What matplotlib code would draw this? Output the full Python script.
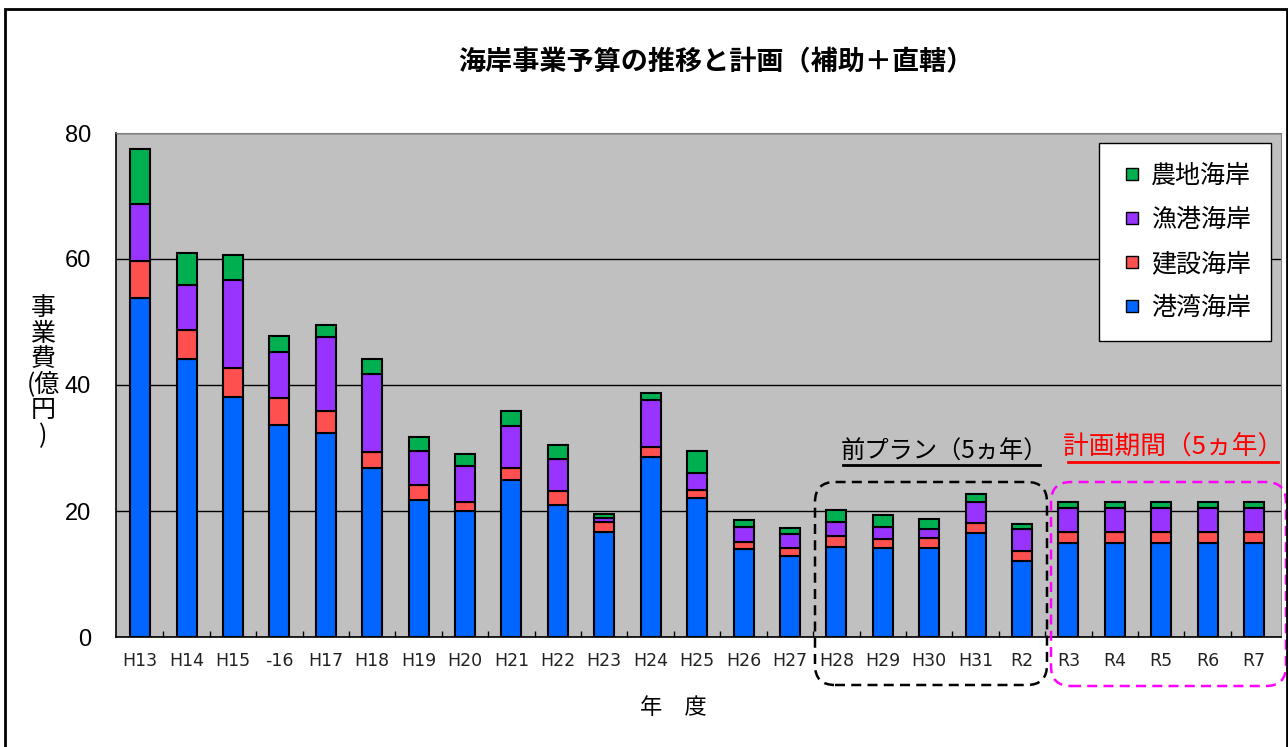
import numpy as np
import matplotlib
matplotlib.use('Agg')
import matplotlib.pyplot as plt
from matplotlib.patches import FancyBboxPatch, Rectangle
from matplotlib.lines import Line2D
from matplotlib.transforms import IdentityTransform

plt.rcParams['font.family'] = ['Noto Sans CJK JP', 'DejaVu Sans']

# Data (億円)
years = ['H13', 'H14', 'H15', '-16', 'H17', 'H18', 'H19', 'H20', 'H21', 'H22',
         'H23', 'H24', 'H25', 'H26', 'H27', 'H28', 'H29', 'H30', 'H31', 'R2',
         'R3', 'R4', 'R5', 'R6', 'R7']
kowan = [53.8, 44.2, 38.1, 33.6, 32.4, 26.9, 21.8, 20.0, 24.9, 20.9,
         16.6, 28.6, 22.0, 13.9, 12.8, 14.3, 14.2, 14.2, 16.5, 12.1,
         14.9, 14.9, 14.9, 14.9, 14.9]
kensetsu = [5.9, 4.6, 4.6, 4.4, 3.5, 2.5, 2.4, 1.5, 1.9, 2.3,
            1.6, 1.6, 1.3, 1.2, 1.4, 1.8, 1.4, 1.5, 1.6, 1.6,
            1.7, 1.7, 1.7, 1.7, 1.7]
gyoko = [9.1, 7.1, 14.0, 7.2, 11.7, 12.4, 5.3, 5.6, 6.7, 5.1,
         0.7, 7.4, 2.8, 2.3, 2.2, 2.2, 1.8, 1.5, 3.4, 3.4,
         3.9, 3.9, 3.9, 3.9, 3.9]
nochi = [8.7, 5.0, 4.0, 2.5, 1.9, 2.3, 2.2, 1.9, 2.4, 2.1,
         0.6, 1.2, 3.4, 1.1, 0.9, 1.9, 1.9, 1.6, 1.2, 0.9,
         1.0, 1.0, 1.0, 1.0, 1.0]
names = ['港湾海岸', '建設海岸', '漁港海岸', '農地海岸']
colors = ['#0066FF', '#FF5050', '#9933FF', '#00B050']

W, H = 1288, 747


def px(x, y):
    # image pixel (top-left origin) -> display coords
    return (x, H - y)


# Set up figure
f = plt.figure(figsize=(W / 100, H / 100), dpi=100)
ax = f.add_axes([116 / W, 1 - 637 / H, (1281 - 116) / W, (637 - 133) / H])
ax.set_facecolor('#C0C0C0')

x = np.arange(len(years))
bottom = np.zeros(len(years))
bw = 0.43
for vals, name, c in zip([kowan, kensetsu, gyoko, nochi], names, colors):
    ax.bar(x, vals, bw, bottom=bottom, color=c, edgecolor='black',
           linewidth=1.5, zorder=3)
    bottom = bottom + np.array(vals)

# Axes
ax.set_xlim(-0.52, len(years) - 0.42)
ax.set_ylim(0, 80)
ax.set_yticks([0, 20, 40, 60, 80])
ax.yaxis.grid(True, color='black', linewidth=1)
ax.set_axisbelow(True)
ax.tick_params(axis='y', length=0, pad=18, labelsize=17,
               labelfontfamily='Liberation Sans')

ax.set_xticks(x)
ax.set_xticks(x[:-1] + 0.5, minor=True)
ax.tick_params(axis='x', which='major', length=0, pad=11, labelsize=12.5,
               labelcolor='#222222', labelfontfamily='DejaVu Sans')
ax.tick_params(axis='x', which='minor', direction='in', length=4, width=1, color='black')
ax.set_xticklabels(years)

for s in ['top', 'right']:
    ax.spines[s].set_color('#808080')
for s in ['left', 'bottom']:
    ax.spines[s].set_color('black')
    ax.spines[s].set_linewidth(1.2)

ax.set_xlabel('年　度', fontsize=16, va='center')
ax.xaxis.set_label_coords((673 - 116) / 1165, (637 - 708) / 504)
ax.set_ylabel('事\n業\n費\n(億\n円\n)', fontsize=18, rotation=0,
              va='center', ha='center', linespacing=0.98)
ax.yaxis.set_label_coords((43 - 116) / 1165, (637 - 372) / 504)

# Legend (top entry = 農地海岸)
handles = [Line2D([], [], ls='none', marker='s', markersize=9, markerfacecolor=c,
                  markeredgecolor='black', markeredgewidth=1, label=n)
           for n, c in zip(names[::-1], colors[::-1])]
leg = ax.legend(handles=handles, loc='upper right',
                bbox_to_anchor=(1271 / W, 1 - 143 / H), bbox_transform=f.transFigure,
                borderaxespad=0, fontsize=18, frameon=True, fancybox=False,
                edgecolor='black', framealpha=1, labelspacing=0.72,
                handlelength=1.05, handletextpad=0.25, borderpad=0.8)
leg.get_frame().set_linewidth(1)

# Title
f.text(716 / W, 1 - 62 / H, '海岸事業予算の推移と計画（補助＋直轄）',
       ha='center', va='center', fontsize=19.5, fontweight='bold')

# Annotations
ident = IdentityTransform()
f.text(944 / W, 1 - 452 / H, '前プラン（5ヵ年）', ha='center', va='center',
       fontsize=17.5, color='black')
f.add_artist(Line2D([843, 1040], [H - 465, H - 465], color='black', lw=2, transform=ident))
f.text(1173 / W, 1 - 447 / H, '計画期間（5ヵ年）', ha='center', va='center',
       fontsize=18.5, color='#FF0000')
f.add_artist(Line2D([1068, 1278], [H - 462, H - 462], color='#FF0000', lw=2, transform=ident))

x0, y0 = px(815, 685)
f.add_artist(FancyBboxPatch((x0, y0), 1047 - 815, 685 - 482,
                            boxstyle='round,pad=0,rounding_size=20',
                            fill=False, ec='black', lw=1.8, ls=(0, (4, 2.5)),
                            transform=ident))
x0, y0 = px(1051, 686)
f.add_artist(FancyBboxPatch((x0, y0), 1286 - 1051, 686 - 482,
                            boxstyle='round,pad=0,rounding_size=20',
                            fill=False, ec='#FF00FF', lw=1.8, ls=(0, (4, 2.5)),
                            transform=ident))

# Outer border
x0, y0 = px(5, 760)
f.add_artist(Rectangle((x0, y0), 1282, 760 - 9, fill=False, ec='black', lw=2,
                       transform=ident))

# Save plot
plt.savefig('out.png', dpi=100)
plt.close(f)
